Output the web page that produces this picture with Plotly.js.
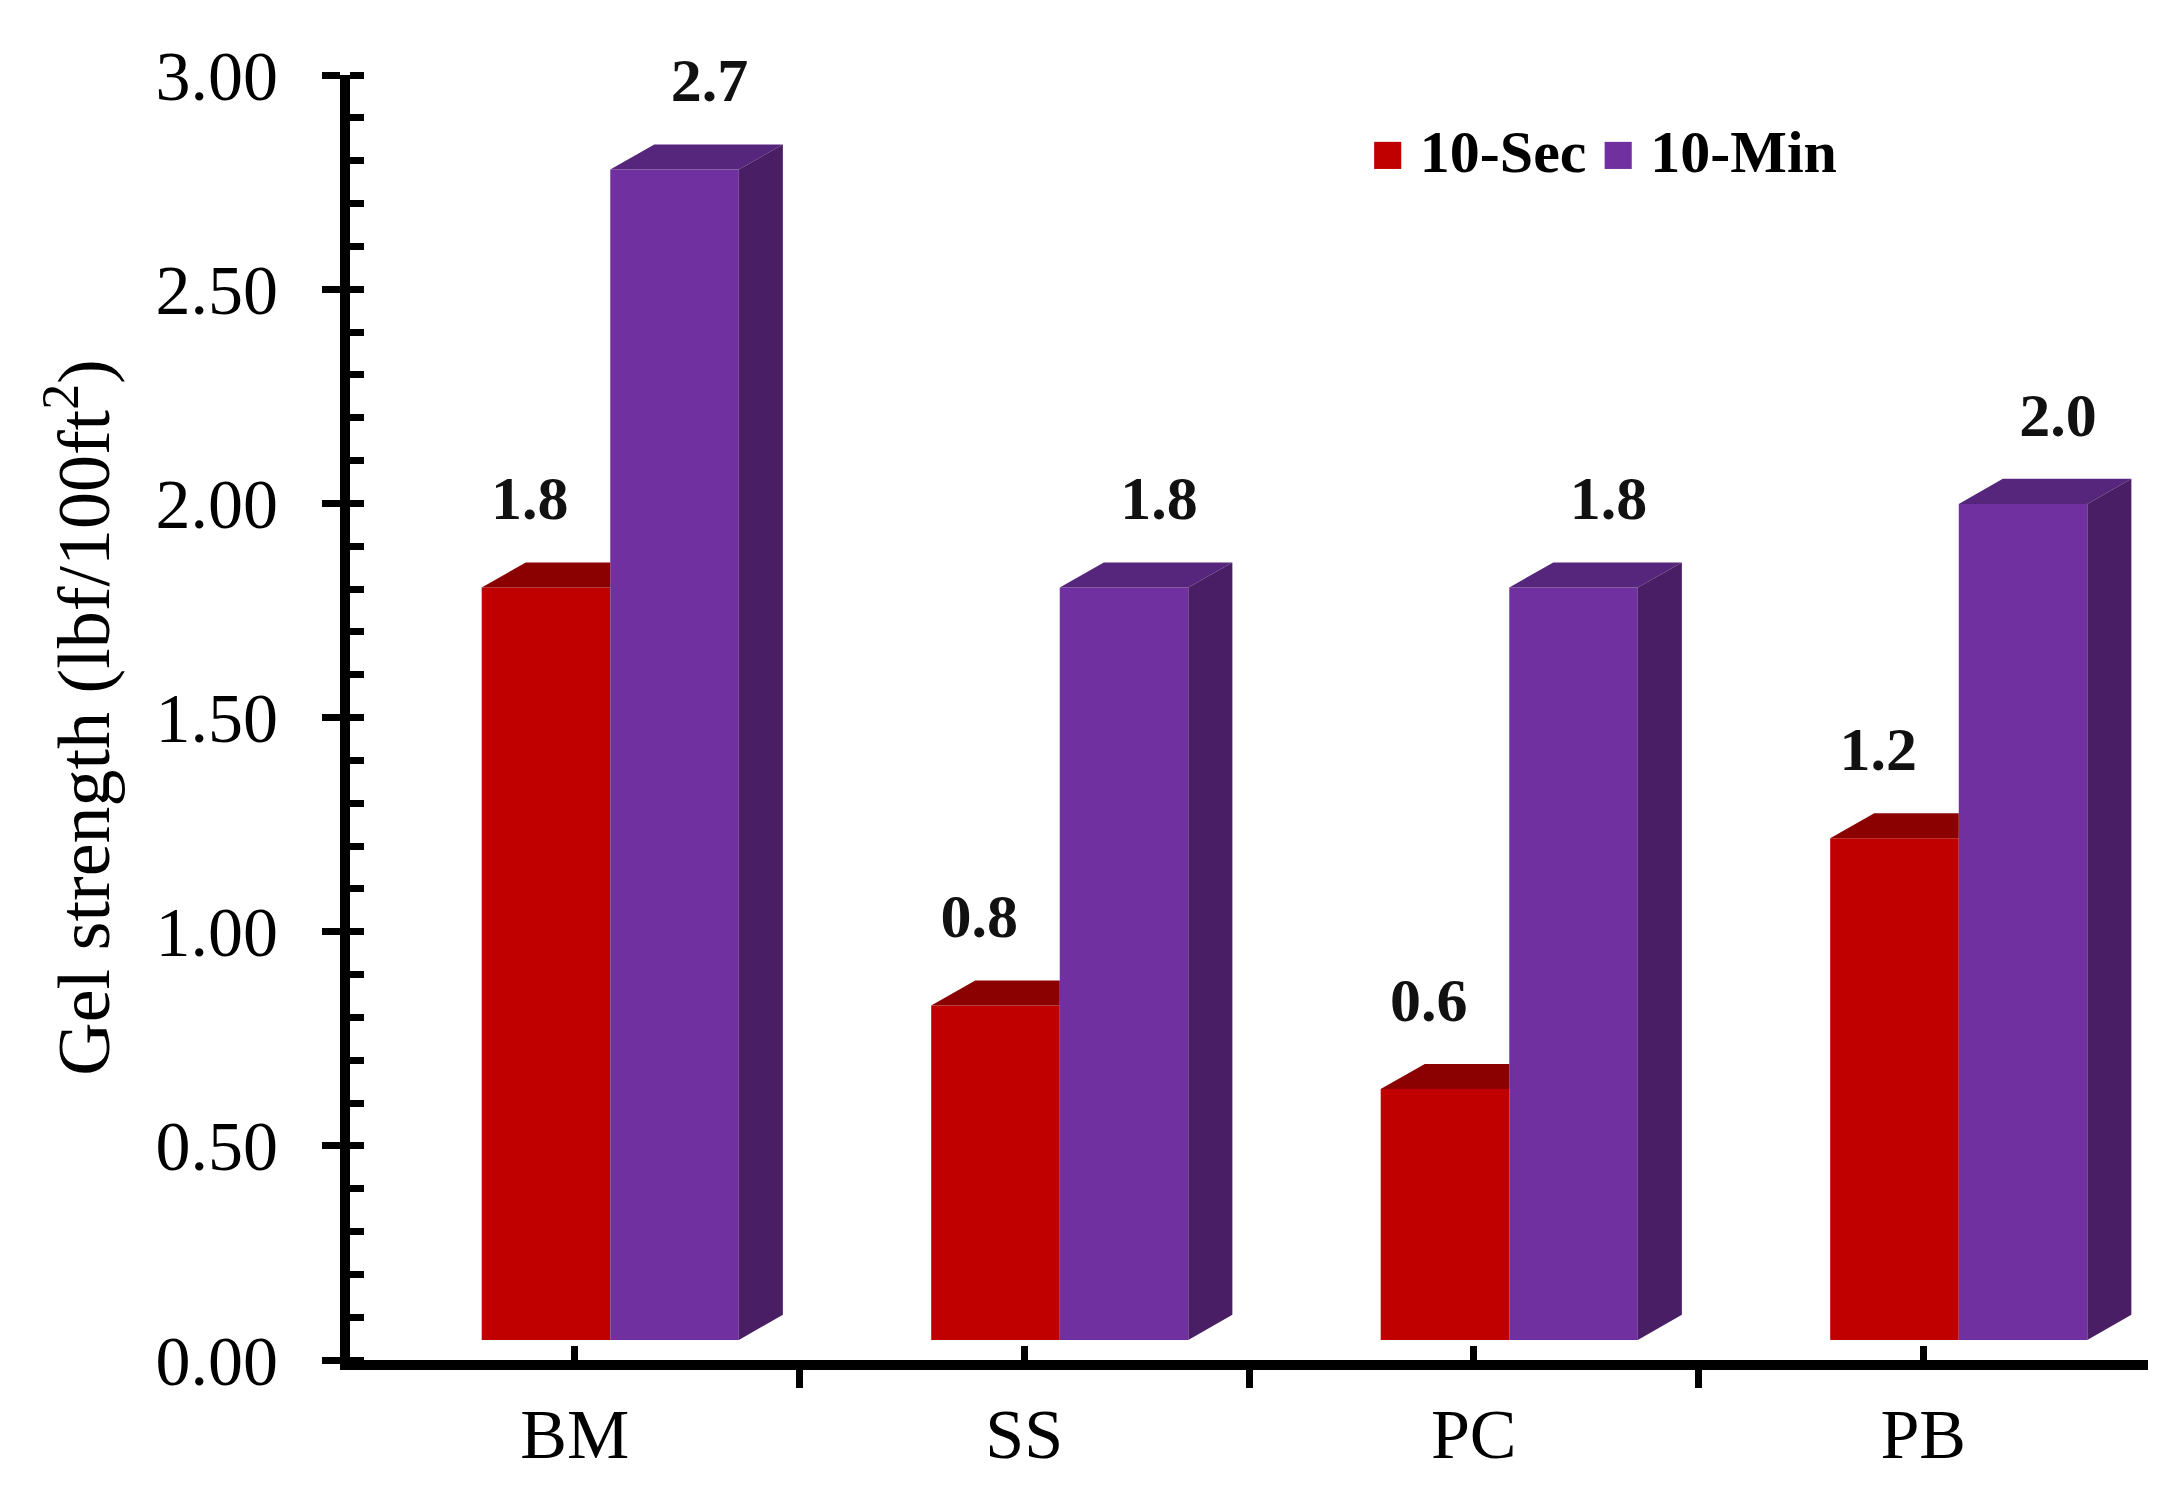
<!DOCTYPE html>
<html>
<head>
<meta charset="utf-8">
<script src="https://cdn.plot.ly/plotly-3.0.1.min.js"></script>
<style>
  html, body { margin: 0; padding: 0; background: #fff; }
  #chart { width: 2184px; height: 1512px; }
</style>
</head>
<body>
<div id="chart"></div>
<script>
// gel strength per sample
var categories = ['BM', 'SS', 'PC', 'PB'];
var sec10 = [1.8, 0.8, 0.6, 1.2];
var min10 = [2.8, 1.8, 1.8, 2.0];
// value labels as printed on the chart
var sec10Text = ['1.8', '0.8', '0.6', '1.2'];
var min10Text = ['2.7', '1.8', '1.8', '2.0'];
var seriesNames = ['10-Sec', '10-Min'];

var font = 'Liberation Serif, Times New Roman, serif';
var redFront = '#C00000', redTop = '#8B0000';
var purFront = '#7030A0', purTop = '#56267C', purSide = '#4A1E64';

// fake 3d: bar width, offsets from category centre, depth of the box
var barW = 0.286;
var offSec = -0.207, offMin = 0.079;
var dx = 0.098, dy = 0.06;

var xs = categories.map(function(c, i) { return i; });

// top and side faces of each box, built from the values
// (clip = true cuts the top face where the next, taller box hides it)
function faces(vals, off, clip) {
    var top = {x: [], y: []}, side = {x: [], y: []};
    for (var i = 0; i < vals.length; i++) {
        var x0 = xs[i] + off, x1 = x0 + barW, v = vals[i];
        if (clip) {
            top.x.push(x0, x1, x1, x0 + dx, x0, null);
        } else {
            top.x.push(x0, x1, x1 + dx, x0 + dx, x0, null);
        }
        top.y.push(v, v, v + dy, v + dy, v, null);
        side.x.push(x1, x1 + dx, x1 + dx, x1, x1, null);
        side.y.push(0, dy, v + dy, v, 0, null);
    }
    return {top: top, side: side};
}

function poly(p, color) {
    return {
        x: p.x, y: p.y, yaxis: 'y2', type: 'scatter', mode: 'lines',
        fill: 'toself', fillcolor: color, line: {width: 0, color: color},
        hoverinfo: 'skip', showlegend: false
    };
}

function labels(vals, texts, dxLabel) {
    return {
        x: xs.map(function(x) { return x + dxLabel; }),
        y: vals.map(function(v) { return v + 0.2; }),
        text: texts, yaxis: 'y2', type: 'scatter', mode: 'text',
        textposition: 'middle center', cliponaxis: false,
        textfont: {family: font, size: 62, color: '#111', weight: 'bold'},
        hoverinfo: 'skip', showlegend: false
    };
}

var fSec = faces(sec10, offSec, true);
var fMin = faces(min10, offMin, false);

var plot_data = [
    // empty traces so the visible y axes get drawn
    {x: [], y: [], type: 'scatter', yaxis: 'y', hoverinfo: 'skip', showlegend: false},
    {x: [], y: [], type: 'scatter', yaxis: 'y3', hoverinfo: 'skip', showlegend: false},
    {
        x: xs, y: sec10, yaxis: 'y2', type: 'bar', name: seriesNames[0],
        width: barW, offset: offSec, marker: {color: redFront, line: {width: 0}},
        showlegend: false
    },
    {
        x: xs, y: min10, yaxis: 'y2', type: 'bar', name: seriesNames[1],
        width: barW, offset: offMin, marker: {color: purFront, line: {width: 0}},
        showlegend: false
    },
    poly(fSec.top, redTop),
    poly(fMin.top, purTop),
    poly(fMin.side, purSide),
    labels(sec10, sec10Text, -0.1),
    labels(min10, min10Text, 0.3)
];

var layout = {
    width: 2184,
    height: 1512,
    margin: {l: 350, r: 36, t: 75, b: 152},
    paper_bgcolor: '#fff',
    plot_bgcolor: 'rgba(0,0,0,0)',
    barmode: 'overlay',
    showlegend: false,
    font: {family: font, color: '#000'},
    xaxis: {
        range: [-0.5, 3.5],
        tickvals: xs,
        ticktext: categories,
        ticks: 'inside', ticklen: 14, tickwidth: 7, tickcolor: '#000',
        minor: {tickvals: [0.5, 1.5, 2.5, 3.5], ticks: 'outside', ticklen: 18, tickwidth: 7, tickcolor: '#000'},
        tickfont: {family: font, size: 70, color: '#000'},
        ticklabelstandoff: 4,
        showline: true, linewidth: 10, linecolor: '#000',
        showgrid: false, zeroline: false, fixedrange: true
    },
    yaxis: {
        range: [0, 3],
        tick0: 0, dtick: 0.5, tickformat: '.2f',
        ticks: 'outside', ticklen: 18, tickwidth: 7, tickcolor: '#000',
        minor: {dtick: 0.1, ticks: 'inside', ticklen: 14, tickwidth: 7, tickcolor: '#000'},
        tickfont: {family: font, size: 70, color: '#000'},
        ticklabelstandoff: 30,
        title: {text: 'Gel strength (lbf/100ft<sup>2</sup>)', font: {family: font, size: 74, color: '#000'}, standoff: 26},
        showline: true, linewidth: 10, linecolor: '#000',
        showgrid: false, zeroline: false, fixedrange: true
    },
    // front plane of the 3d boxes sits a little above the axis floor
    yaxis2: {
        overlaying: 'y', range: [-0.048, 3.026], visible: false,
        showgrid: false, zeroline: false, fixedrange: true
    },
    // inner half of the major y ticks
    yaxis3: {
        overlaying: 'y', range: [0, 3], tick0: 0, dtick: 0.5,
        ticks: 'inside', ticklen: 14, tickwidth: 7, tickcolor: '#000',
        showticklabels: false, showline: false, showgrid: false, zeroline: false,
        fixedrange: true
    },
    annotations: [
        {
            xref: 'paper', yref: 'paper', x: 0.567, y: 0.94,
            xanchor: 'left', yanchor: 'middle', showarrow: false,
            text: '<span style="color:' + redFront + ';font-size:56px">■</span> <b>' + seriesNames[0] +
                  '</b> <span style="color:' + purFront + ';font-size:56px">■</span> <b>' + seriesNames[1] + '</b>',
            font: {family: font, size: 60, color: '#000'}
        }
    ]
};

var config = {responsive: false, staticPlot: true};
Plotly.newPlot(document.getElementById('chart'), plot_data, layout, config);
</script>
</body>
</html>
